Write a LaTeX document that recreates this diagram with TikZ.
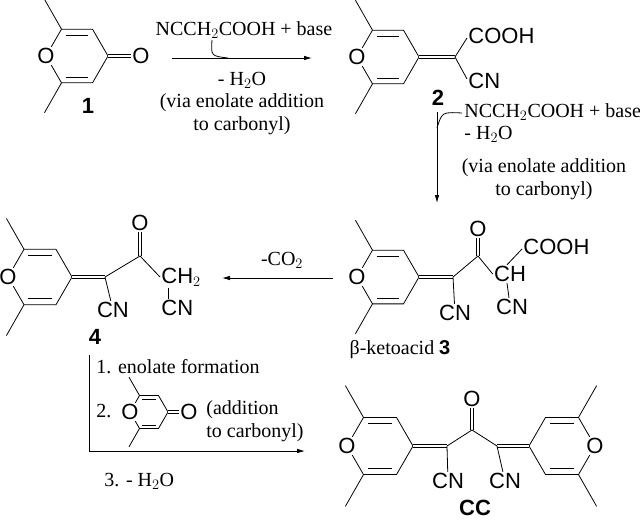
\documentclass[tikz,border=0pt]{standalone}
\usepackage{fontspec}
\setmainfont{Liberation Serif}
\newfontfamily\atomfont{Liberation Sans}
\usetikzlibrary{arrows.meta}

% pyranone ring: centre x, centre y, direction (1: O left, -1: O right), bond length, name
\newcommand\pyran[5]{%
\begin{scope}[shift={(#1,#2)},xscale=#3,scale=#4]
  \coordinate (#5c4) at (1,0);
  \coordinate (#5c3) at (0.5,-0.866);
  \coordinate (#5c2) at (-0.5,-0.866);
  \coordinate (#5c6) at (-0.5,0.866);
  \coordinate (#5c5) at (0.5,0.866);
  \node[atom] (#5o) at (-1,0) {O};
  \draw (#5c4) -- (#5c3) -- (#5c2) -- (#5o) -- (#5c6) -- (#5c5) -- (#5c4);
  \draw (-0.36,-0.68) -- (0.36,-0.68);
  \draw (-0.36,0.68) -- (0.36,0.68);
  % methyls
  \draw (#5c2) -- (-1.05,-1.83);
  \draw (#5c6) -- (-1.05,1.83);
\end{scope}}

\tikzset{
  atom/.style={font=\atomfont\fontsize{22}{23}\selectfont, inner sep=1pt},
  cond/.style={font=\fontsize{20}{22.5}\selectfont, align=center, inner sep=0pt},
  num/.style={font=\atomfont\bfseries\fontsize{22}{23}\selectfont, inner sep=0pt},
  dbl/.style={double distance=2.6pt},
  rxn/.style={-{Latex[length=8pt,width=4.5pt]}}
}

\begin{document}
\begin{tikzpicture}[x=1pt,y=-1pt,line width=0.8pt]
\useasboundingbox (0,0) rectangle (640,520);

% 1
\pyran{77}{56}{1}{31}{a}
\node[atom] (ao) at (141,56) {O};
\draw[dbl] (ac4) -- (ao);
\node[num] at (88,106) {1};

% arrow 1 -> 2
\draw[rxn] (172,58) -- (312,58);
\node[cond] at (244,30) {NCCH$_2$COOH + base};
\draw (212,40) .. controls (211,56) .. (228,58);
\node[cond] at (242,80) {- H$_2$O};
\node[cond] at (242,114) {(via enolate addition\\to carbonyl)};

% 2
\pyran{388}{57}{1}{31}{b}
\coordinate (bx) at (455,57);
\draw[dbl] (bc4) -- (bx);
\node[atom,anchor=west] (bcooh) at (467,36) {COOH};
\node[atom,anchor=west] (bcn) at (467,81) {CN};
\draw (bx) -- ([yshift=-2pt]bcooh.west);
\draw (bx) -- ([yshift=2pt]bcn.west);
\node[num] at (438,98) {2};

% arrow 2 -> 3
\draw[rxn] (437,112) -- (437,203);
\draw (462,113) .. controls (442,112) .. (437,128);
\node[cond,anchor=north west,align=left] at (464,103) {NCCH$_2$COOH + base\\- H$_2$O};
\node[cond] at (544,179) {(via enolate addition\\to carbonyl)};

% 3
\pyran{388}{277}{1}{31}{c}
\coordinate (cx) at (453,277);
\coordinate (ck) at (478,256);
\draw[dbl] (cc4) -- (cx);
\node[atom] (cko) at (478,229) {O};
\draw[dbl] (ck) -- (cko);
\node[atom] (cch) at (510,274) {CH};
\node[atom,anchor=west] (ccooh) at (522,247) {COOH};
\node[atom] (ccn) at (455,313) {CN};
\node[atom] (ccn2) at (512,307) {CN};
\draw (cx) -- (ck) -- (cch.west);
\draw (cx) -- (ccn);
\draw ([xshift=-3pt]cch.north) -- ([yshift=-2pt]ccooh.west);
\draw ([xshift=-3pt]cch.south) -- ([xshift=-3pt]ccn2.north);
\node[cond] at (400,350) {β-ketoacid \textnormal{\atomfont\bfseries 3}};

% arrow 3 -> 4
\draw[rxn] (333,278) -- (222,278);
\node[cond] at (282,260) {-CO$_2$};

% 4
\pyran{40}{277}{1}{32}{d}
\coordinate (dx) at (105,277);
\coordinate (dk) at (140,256);
\draw[dbl] (dc4) -- (dx);
\node[atom] (dko) at (140,223) {O};
\draw[dbl] (dk) -- (dko);
\node[atom,anchor=west] (dch) at (160,277) {CH$_2$};
\node[atom,anchor=west] (dcn) at (160,308) {CN};
\node[atom] (dcn2) at (113,310) {CN};
\draw (dx) -- (dk) -- (dch.west);
\draw (dx) -- (dcn2);
\draw ([xshift=8pt]dch.south west) -- ([xshift=8pt]dcn.north west);
\node[num] at (95,337) {4};

% arrow 4 -> CC
\draw[rxn] (89,355) -- (89,451) -- (305,451);
\node[cond,anchor=west] at (96,367) {1. enolate formation};
\node[cond,anchor=west] at (96,411) {2.};
\pyran{149}{412}{1}{19}{g}
\node[atom] (go) at (189,412) {O};
\draw[dbl] (gc4) -- (go);
\node[cond,anchor=west,align=left] at (206,421) {(addition\\to carbonyl)};
\node[cond,anchor=west] at (104,481) {3. - H$_2$O};

% CC
\pyran{380}{446}{1}{33}{e}
\pyran{562}{446}{-1}{33}{f}
\coordinate (ex) at (447,446);
\coordinate (ek) at (472,430);
\coordinate (fx) at (497,446);
\draw[dbl] (ec4) -- (ex);
\draw[dbl] (fx) -- (fc4);
\node[atom] (eko) at (472,399) {O};
\draw[dbl] (ek) -- (eko);
\draw (ex) -- (ek) -- (fx);
\node[atom] (ecn) at (448,481) {CN};
\node[atom] (fcn) at (505,481) {CN};
\draw (ex) -- (ecn);
\draw (fx) -- (fcn);
\node[num] at (475,508) {CC};
\end{tikzpicture}
\end{document}
